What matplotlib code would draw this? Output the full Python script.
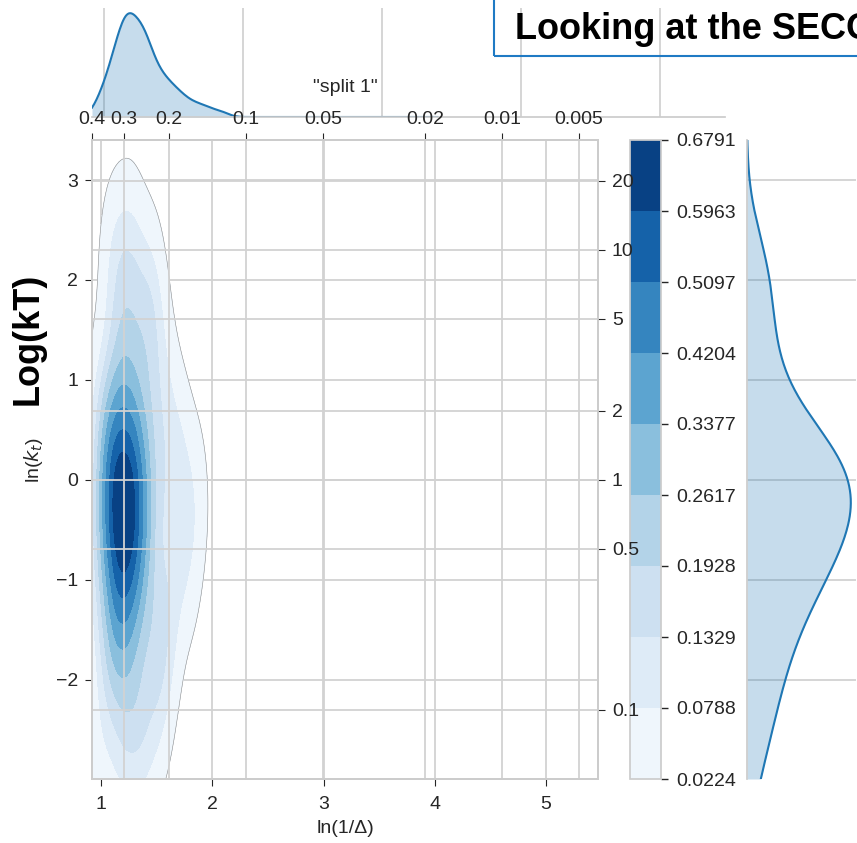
import numpy as np
import matplotlib.pyplot as plt
from matplotlib.patches import Rectangle

# split 1 runs: ln(1/delta) and ln(kt) for each run
ln_inv_delta = [0.95, 1.18, 1.34, 1.39, 1.27, 1.50, 1.04, 1.21, 1.52, 1.16,
                1.30, 1.08, 1.58, 1.13, 1.48, 1.17, 1.33, 1.61, 1.26, 1.01,
                1.12, 1.20, 1.37, 1.15, 1.28, 1.77, 1.22, 1.43, 1.17, 1.31,
                1.10, 1.25, 0.98, 1.68, 1.19, 1.35, 1.14, 1.27, 1.05, 1.07,
                1.21, 1.40, 1.16, 1.85, 1.09, 1.30, 1.24, 1.54, 1.18, 1.33,
                1.12, 1.26, 1.03, 1.72, 1.38, 1.15, 1.29, 1.32, 1.08, 1.23,
                1.45, 1.17, 1.64, 1.06, 1.11, 1.25, 0.99, 1.19, 1.55, 1.36,
                1.14, 1.28, 1.47, 1.22, 1.42, 1.44, 1.17, 1.31, 1.10, 1.24]
ln_kt = [-3.12, -2.82, -2.65, -2.48, -2.37, -2.25, -2.11, -2.00, -1.91, -1.82,
         -1.74, -1.65, -1.56, -1.49, -1.43, -1.36, -1.29, -1.23, -1.16, -1.11,
         -1.07, -1.02, -0.98, -0.93, -0.90, -0.85, -0.81, -0.76, -0.73, -0.68,
         -0.64, -0.61, -0.57, -0.54, -0.51, -0.47, -0.43, -0.39, -0.36, -0.33,
         -0.30, -0.26, -0.22, -0.20, -0.17, -0.14, -0.11, -0.07, -0.05, -0.01,
         0.02, 0.05, 0.08, 0.11, 0.14, 0.18, 0.22, 0.25, 0.29, 0.33,
         0.36, 0.40, 0.44, 0.48, 0.52, 0.59, 0.69, 0.79, 0.90, 0.99,
         1.10, 1.23, 1.37, 1.52, 1.66, 1.81, 1.95, 2.09, 2.22, 2.34]

density_levels = [0.0224, 0.0788, 0.1329, 0.1928, 0.2617,
                  0.3377, 0.4204, 0.5097, 0.5963, 0.6791]

delta_ticks = [0.4, 0.3, 0.2, 0.1, 0.05, 0.02, 0.01, 0.005]
delta_labels = ['0.4', '0.3', '0.2', '0.1', '0.05', '0.02', '0.01', '0.005']
kt_ticks = [20, 10, 5, 2, 1, 0.5, 0.1]
kt_labels = ['20', '10', '5', '2', '1', '0.5', '0.1']

title = 'Looking at the SECOND split'

grid_c = '#d2d2d2'
plt.rcParams.update({
    'font.family': ['Liberation Sans', 'DejaVu Sans'],
    'font.size': 14,
    'axes.edgecolor': '#cccccc',
    'axes.linewidth': 1.25,
    'grid.color': grid_c,
    'grid.linewidth': 1.3,
    'text.color': '#262626',
    'axes.labelcolor': '#262626',
    'xtick.color': '#262626',
    'ytick.color': '#262626',
    'xtick.direction': 'out',
    'ytick.direction': 'out',
    'xtick.major.size': 5,
    'ytick.major.size': 5,
    'xtick.major.pad': 7,
    'ytick.major.pad': 5,
})


def kde_2d(x, y, gx, gy):
    data = np.vstack([x, y])
    n = data.shape[1]
    cov = np.cov(data) * n ** (-1 / 3)   # scott
    inv = np.linalg.inv(cov)
    X, Y = np.meshgrid(gx, gy)
    dx = X[..., None] - x
    dy = Y[..., None] - y
    q = inv[0, 0] * dx * dx + 2 * inv[0, 1] * dx * dy + inv[1, 1] * dy * dy
    Z = np.exp(-0.5 * q).sum(-1) / (n * 2 * np.pi * np.sqrt(np.linalg.det(cov)))
    return X, Y, Z


def kde_1d(v, grid, adjust=1.0):
    n = len(v)
    bw = adjust * np.std(v, ddof=1) * n ** (-0.2)
    d = (grid[:, None] - v) / bw
    return np.exp(-0.5 * d * d).sum(1) / (n * bw * np.sqrt(2 * np.pi))


x = np.array(ln_inv_delta)
y = np.array(ln_kt)
xlim = (np.log(1 / 0.4), 5.47)
ylim = (np.log(0.05), np.log(30))

gx = np.linspace(xlim[0], 2.6, 220)
gy = np.linspace(ylim[0], ylim[1], 220)
X, Y, Z = kde_2d(x, y, gx, gy)

W, H = 857, 843
fig = plt.figure(figsize=(W / 100, H / 100), dpi=100)


def box(l, t, r, b):
    return [l / W, 1 - b / H, (r - l) / W, (b - t) / H]


ax = fig.add_axes(box(92, 140, 598, 779))
ax_top = fig.add_axes(box(92, 8, 725, 117))
cax = fig.add_axes(box(630, 140, 661, 779))
ax_right = fig.add_axes(box(747, 140, 856, 779))

# joint density
ax.set_axisbelow(True)
ax.grid(True)
cs = ax.contourf(X, Y, np.minimum(Z, density_levels[-1]), levels=density_levels, cmap='Blues')
ax.contour(X, Y, Z, levels=density_levels[:1], colors='#8c8c8c', linewidths=0.4)
ax.set_xlim(xlim)
ax.set_ylim(ylim)
ax.set_xlabel('ln(1/Δ)', labelpad=5)
ax.set_ylabel('ln($k_t$)', labelpad=8)

cb = fig.colorbar(cs, cax=cax, ticks=density_levels, format='%.4f')
cb.outline.set_edgecolor('#cccccc')
cb.outline.set_linewidth(1.25)
cax.tick_params(length=5, width=1, pad=6)

# secondary scales: delta on top, kt on the right
ax_t = ax.twiny()
ax_t.set_xlim(xlim)
ax_t.set_xticks(np.log(1 / np.array(delta_ticks)))
ax_t.set_xticklabels(delta_labels)
ax_t.tick_params(axis='x', pad=4)
ax_t.set_xlabel('"split 1"', labelpad=13)
ax_t.grid(True, axis='x')

ax_r = ax.twinx()
ax_r.set_ylim(ylim)
ax_r.set_yticks(np.log(np.array(kt_ticks)))
ax_r.set_yticklabels(kt_labels)
ax_r.grid(True, axis='y')

# marginal densities
gx1 = np.linspace(xlim[0], 3.4, 300)
dx1 = kde_1d(x, gx1, adjust=0.7)
ax_top.fill_between(gx1, 0, dx1, color='C0', alpha=0.25, lw=0)
ax_top.plot(gx1, dx1, color='C0', lw=1.5)
ax_top.set_xlim(xlim)
ax_top.set_ylim(bottom=0)
ax_top.grid(True, axis='x')
ax_top.set_axisbelow(True)
ax_top.tick_params(bottom=False, left=False, labelbottom=False, labelleft=False)
for s in ['top', 'left', 'right']:
    ax_top.spines[s].set_visible(False)

gy1 = np.linspace(ylim[0], ylim[1], 300)
dy1 = kde_1d(y, gy1, adjust=0.9)
ax_right.fill_betweenx(gy1, 0, dy1, color='C0', alpha=0.25, lw=0)
ax_right.plot(dy1, gy1, color='C0', lw=1.5)
ax_right.set_ylim(ylim)
ax_right.set_xlim(left=0)
ax_right.grid(True, axis='y')
ax_right.set_axisbelow(True)
ax_right.tick_params(bottom=False, left=False, labelbottom=False, labelleft=False)
for s in ['top', 'bottom', 'right']:
    ax_right.spines[s].set_visible(False)

fig.text(28 / W, 1 - 339 / H, 'Log(kT)', rotation=90, fontsize=26, weight='bold',
         color='black', ha='center', va='center')

fig.add_artist(Rectangle((494 / W, 1 - 56 / H), 1, 1, transform=fig.transFigure,
                         fill=False, ec='#1f7ac4', lw=1.5))
fig.text(515 / W, 1 - 39 / H, title, fontsize=26, weight='bold', color='black',
         va='baseline')

fig.savefig('out.png', dpi=100)
